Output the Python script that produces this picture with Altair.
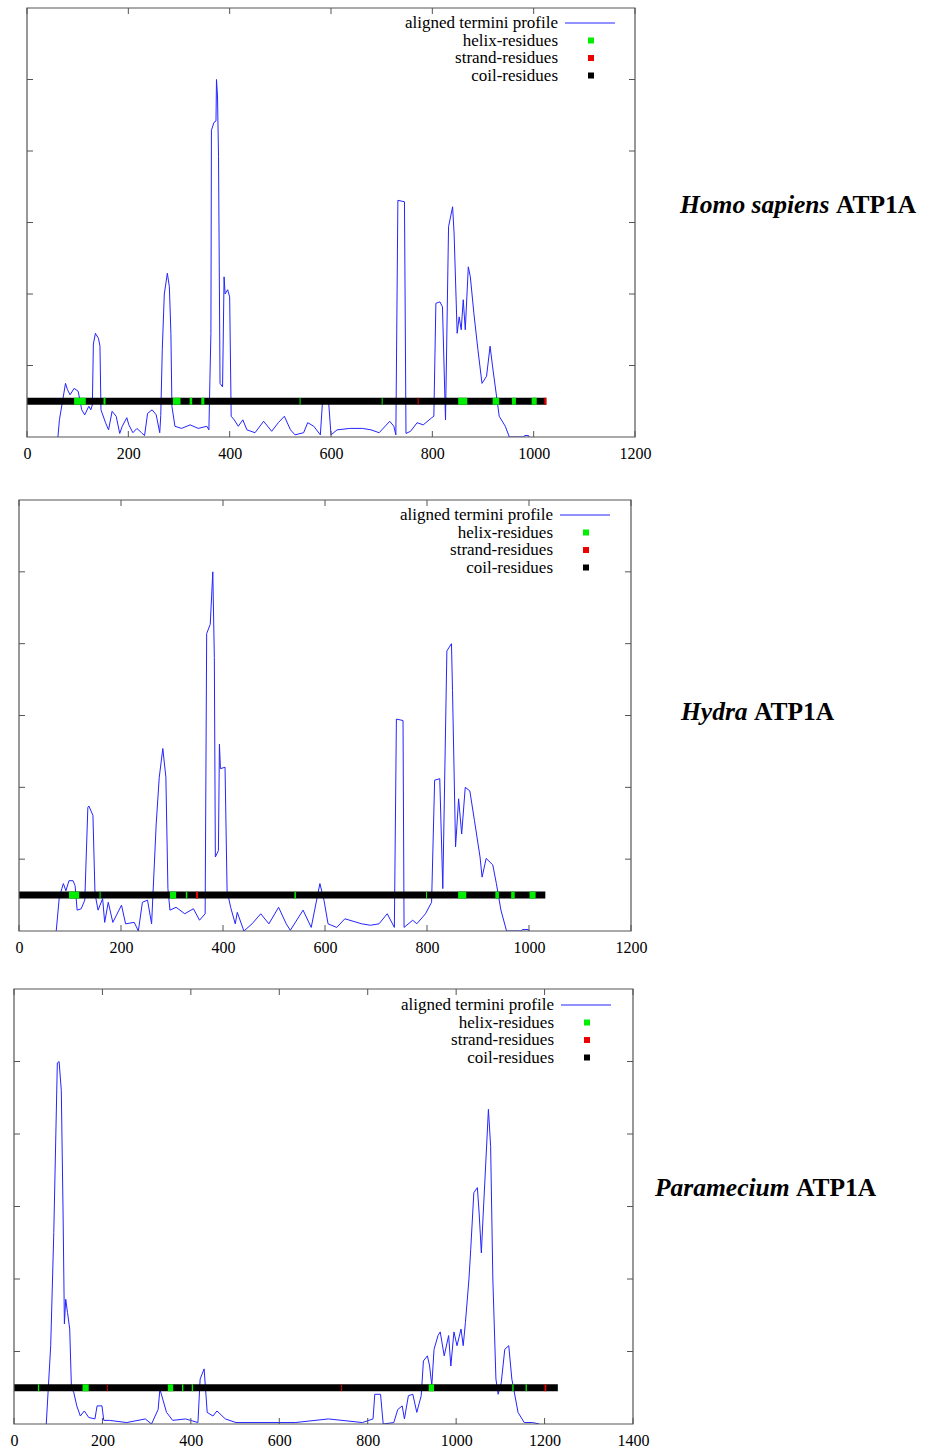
import altair as alt
import pandas as pd

BLUE = "#2424ff"
GREEN = "#00ee00"
RED = "#ee0000"
FRAME = "#555555"
FONT = "Liberation Serif"

# ---------------- data ----------------
# Panel 1: Homo sapiens ATP1A
P1_X = [61,64,76,80,85,93,101,108,114,122,126,129,131,135,141,144,146,155,161,168,
        176,183,188,197,201,209,217,226,232,238,247,255,262,264,267,271,277,281,284,286,
        292,305,322,338,355,359,361,363,364,369,373,374,376,378,381,386,389,391,396,400,
        403,409,417,426,434,450,467,483,496,508,520,529,546,554,566,579,583,595,600,612,
        637,662,679,695,716,724,728,732,745,748,757,770,782,799,803,807,815,820,826,832,
        840,843,849,853,857,861,865,871,875,882,890,898,907,914,919,932,944,952,980,982,
        990,991]
P1_Y = [0,0.24,0.75,0.66,0.59,0.68,0.64,0.38,0.31,0.43,0.38,0.45,1.30,1.45,1.38,1.27,0.38,0.2,0.1,0.36,
        0.29,0.05,0.15,0.27,0.17,0.06,0.12,0.06,0.02,0.33,0.38,0.31,0.06,0.3,1.22,2.0,2.29,2.1,1.45,0.43,
        0.15,0.12,0.17,0.12,0.15,0.1,0.8,1.45,4.29,4.40,4.42,5.0,4.77,3.92,0.75,0.70,2.24,2.0,2.06,1.96,
        0.29,0.24,0.15,0.24,0.1,0.06,0.22,0.08,0.2,0.29,0.1,0.03,0.06,0.2,0.15,0.03,0.47,0.52,0.03,0.1,
        0.12,0.12,0.1,0.06,0.22,0.15,0.03,3.31,3.29,0.05,0.08,0.2,0.17,0.27,0.29,1.87,1.89,1.82,0.24,2.94,
        3.22,2.84,1.45,1.68,1.50,1.92,1.50,2.38,2.24,1.73,1.22,0.75,0.85,1.27,0.98,0.29,0.15,0,0,0.02,
        0.02,0]
P1_LEN = 1025
P1_HELIX = [(93,116),(151,155),(288,303),(321,326),(344,350),(538,540),(700,702),
            (851,869),(919,932),(957,965),(996,1006)]
P1_STRAND = [(771,773),(1021,1025)]

# Panel 2: Hydra ATP1A
P2_X = [73,79,84,87,92,98,106,110,114,122,129,135,137,145,149,155,164,168,175,184,
        201,209,226,234,242,252,260,269,275,282,288,292,296,308,325,342,354,365,368,375,
        380,383,385,391,393,395,404,408,415,424,428,441,457,474,490,509,524,532,557,573,
        590,598,606,623,639,672,689,706,722,736,740,753,755,772,780,797,809,815,825,831,
        839,848,850,856,862,868,875,884,893,904,908,916,929,936,945,956,985,987,999,1000]
P2_Y = [0,0.47,0.59,0.66,0.56,0.70,0.70,0.63,0.29,0.31,0.43,1.72,1.74,1.61,0.52,0.29,0.45,0.12,0.40,0.12,
        0.36,0.10,0.12,0.0,0.40,0.43,0.10,1.49,2.14,2.54,2.14,0.59,0.29,0.33,0.24,0.31,0.15,0.24,4.14,4.27,
        5.0,3.81,1.03,1.12,2.6,2.26,2.28,0.56,0.33,0.10,0.26,0.0,0.10,0.24,0.10,0.33,0.10,0.01,0.29,0.05,
        0.66,0.43,0.10,0.05,0.17,0.10,0.08,0.10,0.24,0.05,2.95,2.93,0.05,0.15,0.10,0.24,0.40,2.10,2.12,0.59,
        3.90,4.0,3.35,1.17,1.84,1.35,2.0,1.95,1.54,1.03,0.75,1.01,0.92,0.66,0.29,0.0,0,0.02,0.02,0]
P2_LEN = 1032
P2_HELIX = [(98,118),(158,160),(296,308),(327,330),(540,543),(798,800),(861,877),
            (934,941),(965,972),(1001,1013)]
P2_STRAND = [(347,351)]

# Panel 3: Paramecium ATP1A
P3_X = [73,83,90,98,102,107,111,114,117,121,126,130,135,142,150,159,169,183,188,199,
        203,216,255,297,311,326,330,345,359,388,416,421,430,437,450,459,478,502,636,711,
        788,812,816,829,835,859,868,878,883,892,902,911,921,926,935,940,945,950,959,964,
        973,983,988,995,1002,1011,1016,1021,1029,1033,1040,1048,1052,1057,1061,1067,1073,1078,1083,1090,
        1095,1102,1110,1119,1126,1140,1154,1173,1188]
P3_Y = [0,1.08,2.64,4.98,5.0,4.6,2.91,1.38,1.72,1.54,1.31,0.48,0.44,0.25,0.11,0.18,0.09,0.07,0.25,0.25,
        0.05,0.05,0.02,0.07,0.0,0.2,0.48,0.16,0.05,0.07,0.02,0.62,0.76,0.16,0.11,0.18,0.07,0.02,0.02,0.07,
        0.02,0.07,0.41,0.41,0.0,0.02,0.2,0.25,0.07,0.39,0.41,0.16,0.39,0.87,0.94,0.80,0.53,1.03,1.22,1.27,
        0.94,1.22,0.80,1.27,1.08,1.31,1.08,1.40,2.0,2.41,3.19,3.26,2.91,2.36,2.87,3.6,4.34,3.83,2.0,0.62,
        0.41,0.57,1.03,1.08,0.62,0.16,0.02,0.02,0.0]
P3_LEN = 1230
P3_HELIX = [(54,57),(155,169),(348,360),(380,383),(402,405),(938,950),(1127,1130),(1157,1160)]
P3_STRAND = [(210,212),(740,742),(1200,1204)]

BAR_LEVEL = 0.5
Y_TICKS = [1, 2, 3, 4, 5]
X_TICKS_1200 = [0, 200, 400, 600, 800, 1000, 1200]
X_TICKS_1400 = [0, 200, 400, 600, 800, 1000, 1200, 1400]
LEGEND_LABELS = ["aligned termini profile", "helix-residues", "strand-residues", "coil-residues"]
SPECIES = ["Homo sapiens", "Hydra", "Paramecium"]
GENE = "ATP1A"


def panel(px, py, length, helix, strand, xticks, width, xr0, height, ytop,
          leg_right, leg_top, species, sp_x, gene_x, lab_y, anchor=False):
    xmax = xticks[-1]
    xs = alt.Scale(domain=[0, xmax], range=[xr0, width], nice=False, zero=False)
    ys = alt.Scale(domain=[0, 6], range=[height, ytop], nice=False, zero=False)
    xaxis = alt.Axis(values=xticks, ticks=False, tickSize=0, domain=False, grid=False,
                     labelFont=FONT, labelFontSize=16, labelColor="black", labelPadding=8,
                     labelFlush=False, labelOverlap=False, title=None, format="d")

    prof = pd.DataFrame({"x": px, "y": py})
    line = alt.Chart(prof).mark_line(color=BLUE, strokeWidth=1, clip=True).encode(
        x=alt.X("x:Q", scale=xs, axis=xaxis),
        y=alt.Y("y:Q", scale=ys, axis=None),
    )

    rows = [{"start": 0, "end": length, "kind": "coil"}]
    rows += [{"start": a, "end": b, "kind": "helix"} for a, b in helix]
    rows += [{"start": a, "end": b, "kind": "strand"} for a, b in strand]
    segs = pd.DataFrame(rows)
    segs["level"] = BAR_LEVEL
    bar = alt.Chart(segs).mark_rule(strokeWidth=7, strokeCap="butt").encode(
        x=alt.X("start:Q", scale=xs, axis=xaxis),
        x2="end:Q",
        y=alt.Y("level:Q", scale=ys, axis=None),
        color=alt.Color("kind:N", scale=alt.Scale(domain=["coil", "helix", "strand"],
                                                   range=["black", GREEN, RED]), legend=None),
    )

    xt = pd.DataFrame({"t": xticks})
    yt = pd.DataFrame({"t": Y_TICKS})
    tl = 6
    tick_b = alt.Chart(xt).mark_rule(color=FRAME, strokeWidth=1).encode(
        x=alt.X("t:Q", scale=xs, axis=xaxis), y=alt.value(height), y2=alt.value(height - tl))
    tick_t = alt.Chart(xt).mark_rule(color=FRAME, strokeWidth=1).encode(
        x=alt.X("t:Q", scale=xs, axis=xaxis), y=alt.value(ytop), y2=alt.value(ytop + tl))
    tick_l = alt.Chart(yt).mark_rule(color=FRAME, strokeWidth=1).encode(
        y=alt.Y("t:Q", scale=ys, axis=None), x=alt.value(xr0), x2=alt.value(xr0 + tl))
    tick_r = alt.Chart(yt).mark_rule(color=FRAME, strokeWidth=1).encode(
        y=alt.Y("t:Q", scale=ys, axis=None), x=alt.value(width), x2=alt.value(width - tl))

    one = pd.DataFrame({"a": [0]})
    frame = alt.Chart(one).mark_rect(fill=None, stroke=FRAME, strokeWidth=1.2).encode(
        x=alt.value(xr0), x2=alt.value(width), y=alt.value(ytop), y2=alt.value(height))

    layers = [line, bar, frame, tick_b, tick_t, tick_l, tick_r]

    # legend
    dy = 17.5
    for i, lab in enumerate(LEGEND_LABELS):
        yy = leg_top + i * dy
        layers.append(alt.Chart(one).mark_text(text=lab, font=FONT, fontSize=17, align="right",
                                               baseline="middle", color="black").encode(
            x=alt.value(leg_right), y=alt.value(yy)))
    layers.append(alt.Chart(one).mark_rule(color=BLUE, strokeWidth=1).encode(
        x=alt.value(leg_right + 7), x2=alt.value(leg_right + 57), y=alt.value(leg_top)))
    for i, col in enumerate([GREEN, RED, "black"]):
        yy = leg_top + (i + 1) * dy
        layers.append(alt.Chart(one).mark_square(size=36, color=col, opacity=1).encode(
            x=alt.value(leg_right + 33), y=alt.value(yy)))

    # species label
    layers.append(alt.Chart(one).mark_text(text=species, font=FONT, fontSize=25.5, fontStyle="italic",
                                           fontWeight="bold", align="left", baseline="middle",
                                           color="black").encode(
        x=alt.value(sp_x), y=alt.value(lab_y)))
    layers.append(alt.Chart(one).mark_text(text=GENE, font=FONT, fontSize=25.5,
                                           fontWeight="bold", align="left", baseline="middle",
                                           color="black").encode(
        x=alt.value(gene_x), y=alt.value(lab_y)))

    if anchor:
        layers.append(alt.Chart(one).mark_rule(opacity=0).encode(
            x=alt.value(-14), x2=alt.value(-14), y=alt.value(-8), y2=alt.value(-7)))

    return alt.layer(*layers).properties(width=width, height=height)


p1 = panel(P1_X, P1_Y, P1_LEN, P1_HELIX, P1_STRAND, X_TICKS_1200, 621, 13, 429, 0,
           544, 15, SPECIES[0], 666, 822, 197, anchor=True)
p2 = panel(P2_X, P2_Y, P2_LEN, P2_HELIX, P2_STRAND, X_TICKS_1200, 617, 5, 436, 5,
           539, 20, SPECIES[1], 667, 740, 217)
p3 = panel(P3_X, P3_Y, P3_LEN, P3_HELIX, P3_STRAND, X_TICKS_1400, 619, 0, 435, 0,
           540, 16, SPECIES[2], 641, 782, 199)

chart = alt.vconcat(p1, p2, p3, spacing=58, bounds="flush").properties(
    padding=0, background="white").configure_view(stroke=None)

chart.save("out.html", embed_options={"renderer": "svg", "actions": False})
